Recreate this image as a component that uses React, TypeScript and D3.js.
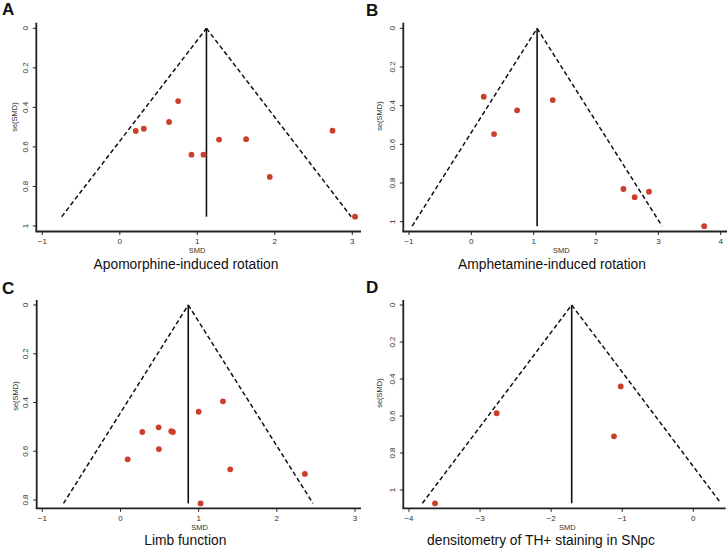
import React from "react";
import * as d3 from "d3";

// ---- data ----
const panelLetters = ["A", "B", "C", "D"];
const panelTitles = [
  "Apomorphine-induced rotation",
  "Amphetamine-induced rotation",
  "Limb function",
  "densitometry of TH+ staining in SNpc",
];

const smdA = [0.206, 0.31, 0.636, 0.753, 0.925, 1.08, 1.281, 1.63, 1.935, 2.745, 3.035];
const seA = [0.519, 0.508, 0.474, 0.368, 0.639, 0.639, 0.563, 0.561, 0.752, 0.518, 0.953];
const pooledA = 1.118;

const smdB = [0.199, 0.364, 0.734, 1.306, 2.44, 2.62, 2.85, 3.735];
const seB = [0.354, 0.547, 0.424, 0.371, 0.831, 0.873, 0.845, 1.023];
const pooledB = 1.055;

const smdC = [0.092, 0.279, 0.488, 0.492, 0.65, 0.671, 1.0, 1.311, 1.404, 2.359, 1.025];
const seC = [0.633, 0.521, 0.502, 0.591, 0.518, 0.521, 0.438, 0.395, 0.674, 0.693, 0.814];
const pooledC = 0.867;

const smdD = [-3.634, -2.766, -1.116, -1.021];
const seD = [1.072, 0.585, 0.71, 0.44];
const pooledD = -1.711;

const xTicksA = [-1, 0, 1, 2, 3];
const xTicksB = [-1, 0, 1, 2, 3, 4];
const xTicksC = [-1, 0, 1, 2, 3];
const xTicksD = [-4, -3, -2, -1, 0];
const yTicksA = [0, 0.2, 0.4, 0.6, 0.8, 1];
const yTicksB = [0, 0.2, 0.4, 0.6, 0.8, 1];
const yTicksC = [0, 0.2, 0.4, 0.6, 0.8];
const yTicksD = [0, 0.2, 0.4, 0.6, 0.8, 1];

// ---- layout (pixels) ----
const layouts = [
  { ox: 0, oy: 0, xd: [-1, 3], xr: [42.3, 352.3], yd: [0, 1], yr: [28.3, 226], left: 36.3, top: 22.7, bottom: 231.5, right: 361,
    titleX: 186, titleY: 268.5, smdX: 197, seX: 17, seY: 117, letterY: 15 },
  { ox: 364, oy: 0, xd: [-1, 4], xr: [45, 356.7], yd: [0, 1], yr: [28.3, 221.7], left: 39.3, top: 22.7, bottom: 231.5, right: 363,
    titleX: 188, titleY: 268.5, smdX: 197.3, seX: 18, seY: 116, letterY: 16 },
  { ox: 0, oy: 275, xd: [-1, 3], xr: [42.3, 355], yd: [0, 0.8], yr: [30, 225], left: 36.7, top: 25, bottom: 233.3, right: 361,
    titleX: 185.3, titleY: 270.2, smdX: 199.5, seX: 17.5, seY: 121, letterY: 18.5 },
  { ox: 364, oy: 275, xd: [-4, 0], xr: [45, 329.3], yd: [0, 1], yr: [30, 215], left: 39.3, top: 25, bottom: 233.3, right: 361.7,
    titleX: 177, titleY: 270.2, smdX: 203.3, seX: 17.5, seY: 118, letterY: 18.3 },
];

const panelsData = [
  { smd: smdA, se: seA, pooled: pooledA, xt: xTicksA, yt: yTicksA },
  { smd: smdB, se: seB, pooled: pooledB, xt: xTicksB, yt: yTicksB },
  { smd: smdC, se: seC, pooled: pooledC, xt: xTicksC, yt: yTicksC },
  { smd: smdD, se: seD, pooled: pooledD, xt: xTicksD, yt: yTicksD },
];

const FONT = "'Liberation Sans', Arial, Helvetica, sans-serif";
const POINT = "#cb3e29";
const fmt = d3.format("~g");

function Panel({ i }: { i: number }) {
  const L = layouts[i];
  const D = panelsData[i];
  const x = d3.scaleLinear().domain(L.xd).range(L.xr);
  const y = d3.scaleLinear().domain(L.yd).range(L.yr);
  const maxSe = d3.max(D.se) as number;
  const z = 1.96;
  const tri = d3.line<[number, number]>().x((d) => x(d[0])).y((d) => y(d[1]));
  const leftLeg: [number, number][] = [[D.pooled - z * maxSe, maxSe], [D.pooled, 0]];
  const rightLeg: [number, number][] = [[D.pooled, 0], [D.pooled + z * maxSe, maxSe]];
  const tickLabelX = L.left - 8.5;
  return (
    <g transform={`translate(${L.ox},${L.oy})`} fontFamily={FONT}>
      <text x={2} y={L.letterY} fontSize={17} fontWeight="bold" fill="#111">{panelLetters[i]}</text>
      {/* pseudo confidence limits */}
      <path d={tri(leftLeg) || ""} fill="none" stroke="#111" strokeWidth={1.5} strokeDasharray="4.5,2.8" />
      <path d={tri(rightLeg) || ""} fill="none" stroke="#111" strokeWidth={1.5} strokeDasharray="4.5,2.8" />
      {/* pooled estimate */}
      <line x1={x(D.pooled)} x2={x(D.pooled)} y1={y(0)} y2={y(maxSe)} stroke="#111" strokeWidth={1.6} />
      {/* points */}
      {D.smd.map((v, k) => (
        <circle key={k} cx={x(v)} cy={y(D.se[k])} r={2.9} fill={POINT} />
      ))}
      {/* axes */}
      <line x1={L.left} x2={L.left} y1={L.top} y2={L.bottom} stroke="#222" strokeWidth={1.8} />
      <line x1={L.left - 0.9} x2={L.right} y1={L.bottom} y2={L.bottom} stroke="#222" strokeWidth={1.8} />
      {D.yt.map((t) => (
        <g key={"y" + t}>
          <line x1={L.left - 3.5} x2={L.left} y1={y(t)} y2={y(t)} stroke="#222" strokeWidth={1} />
          <text
            transform={`translate(${tickLabelX},${y(t)}) rotate(-90)`}
            textAnchor="middle"
            fontSize={8}
            fill="#333"
          >
            {fmt(t)}
          </text>
        </g>
      ))}
      {D.xt.map((t) => (
        <g key={"x" + t}>
          <line x1={x(t)} x2={x(t)} y1={L.bottom} y2={L.bottom + 3.5} stroke="#222" strokeWidth={1} />
          <text x={x(t)} y={L.bottom + 12.5} textAnchor="middle" fontSize={8} fill="#333">{fmt(t)}</text>
        </g>
      ))}
      <text x={L.smdX} y={L.bottom + 21.5} textAnchor="middle" fontSize={7.5} fill="#333">SMD</text>
      <text transform={`translate(${L.seX},${L.seY}) rotate(-90)`} textAnchor="middle" fontSize={7.5} fill="#333">se(SMD)</text>
      <text x={L.titleX} y={L.titleY} textAnchor="middle" fontSize={13.8} fill="#111">{panelTitles[i]}</text>
    </g>
  );
}

export default function App() {
  return (
    <svg
      width={728}
      height={551}
      viewBox="0 0 728 551"
      style={{ position: "absolute", left: 0, top: 0, background: "#fff" }}
    >
      <rect width={728} height={551} fill="#fff" />
      {[0, 1, 2, 3].map((i) => (
        <Panel key={i} i={i} />
      ))}
    </svg>
  );
}
